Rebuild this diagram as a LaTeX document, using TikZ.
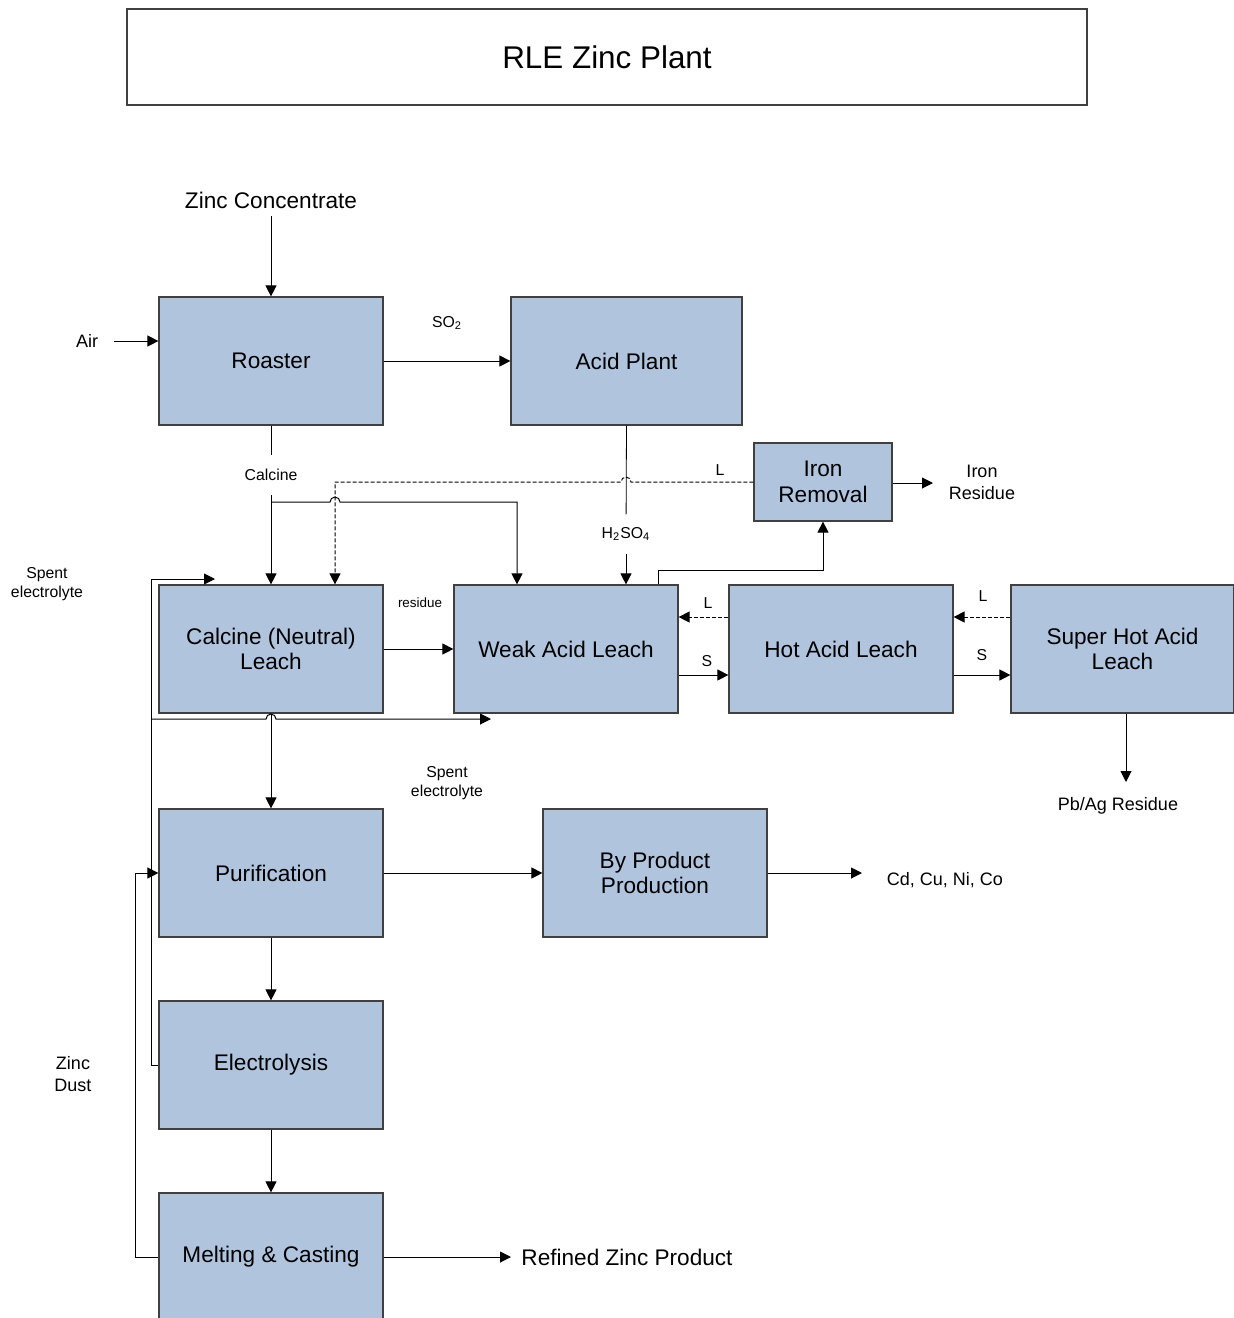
\documentclass[tikz,border=0pt]{standalone}
\usepackage{fontspec}
\setmainfont{Liberation Sans}
\usepackage{tikz}
\usetikzlibrary{arrows.meta}
\definecolor{boxblue}{HTML}{B0C4DE}
\definecolor{edgegray}{HTML}{404040}
\tikzset{
  proc/.style={draw=edgegray, fill=boxblue, line width=0.6pt, minimum width=112pt, minimum height=64pt, inner sep=0pt, align=center, font=\fontsize{11.3}{12.8}\selectfont},
  lbl/.style={align=center, inner sep=0pt, font=\fontsize{9}{11}\selectfont},
  note/.style={align=center, inner sep=0pt, font=\fontsize{7.9}{9.5}\selectfont},
  flow/.style={line width=0.5pt, -{Triangle[length=5.5pt,width=5.5pt]}},
  back/.style={flow, dash pattern=on 2pt off 1pt},
}
\begin{document}
\begin{tikzpicture}[x=0.5pt, y=-0.5pt]
    \useasboundingbox (0,0) rectangle (1234,1318);

    \node [draw=edgegray, line width=0.6pt, minimum width=480pt, minimum height=48pt, font=\fontsize{15.7}{18}\selectfont] (title) at (607,57) {RLE Zinc Plant};

    \node [proc] (roaster) at (271,361) {Roaster};
    \node [proc, minimum width=115.5pt] (acid) at (626.5,361) {Acid Plant};
    \node [proc, minimum width=69pt, minimum height=39pt] (iron) at (823,482) {Iron\\Removal};
    \node [proc] (cnl) at (271,649) {Calcine (Neutral)\\Leach};
    \node [proc] (wal) at (566,649) {Weak Acid Leach};
    \node [proc] (hal) at (841,649) {Hot Acid Leach};
    \node [proc, minimum width=111.5pt] (shal) at (1122.5,649) {Super Hot Acid\\Leach};
    \node [proc] (pur) at (271,873) {Purification};
    \node [proc] (byp) at (655,873) {By Product\\Production};
    \node [proc] (elec) at (271,1065) {Electrolysis};
    \node [proc] (melt) at (271,1257) {Melting \& Casting};

    \node [proc, draw=none, fill=none, minimum width=0pt, minimum height=0pt, inner xsep=0pt, inner ysep=3.5pt] (zc) at (271,200) {Zinc Concentrate};
    \node [lbl, inner xsep=7.7pt] (air) at (87,341) {Air};
    \node [note] (so2) at (447,323) {SO\textsubscript{2}};
    \node [note, inner ysep=7.1pt] (calc) at (271,475) {Calcine};
    \node [note, inner ysep=6.3pt] (h2so4) at (626,534) {H\textsubscript{2}SO\textsubscript{4}};
    \node [note] (lfe) at (720,470) {L};
    \node [lbl] (ironres) at (982,482) {Iron\\Residue};
    \node [note] (spent1) at (47,584) {Spent\\electrolyte};
    \node [note, font=\fontsize{6.7}{8}\selectfont] (res) at (420,603) {residue};
    \node [note] (l1) at (708,603) {L};
    \node [note] (s1) at (707,661) {S};
    \node [note] (l2) at (983,596) {L};
    \node [note] (s2) at (982,655) {S};
    \node [note] (spent2) at (447,783) {Spent\\electrolyte};
    \node [lbl] (pbag) at (1118,806) {Pb/Ag Residue};
    \node [lbl] (metals) at (945,880) {Cd, Cu, Ni, Co};
    \node [lbl] (zdust) at (73,1074) {Zinc\\Dust};
    \node [proc, draw=none, fill=none, minimum width=0pt, minimum height=0pt] (rzp) at (627,1257) {Refined Zinc Product};

    \coordinate (dl) at (335,482);
    \coordinate (hopa) at (626,482);
    \coordinate (cb) at (271,502);
    \coordinate (wb) at (517,502);
    \coordinate (fe) at (658,570);
    \coordinate (ire) at (933,483);
    \coordinate (pbe) at (1126,782);
    \coordinate (sl) at (151,579);
    \coordinate (sr) at (215,579);
    \coordinate (bl) at (151,719);
    \coordinate (br) at (491,719);
    \coordinate (zd) at (135,873);
    \coordinate (mte) at (862,873);
    \coordinate (rze) at (511,1257);

    \draw [flow] (zc) -- (roaster);
    \draw [flow] (air) -- (air -| roaster.west);
    \draw [flow] (roaster) -- (acid);
    \draw (roaster) -- (calc);
    \draw [flow] (calc) -- (cnl);
    \draw (acid.south) -- (h2so4);
    \draw [flow] (h2so4.south) -- (h2so4.south |- wal.north);
    \draw [back] (iron.west |- hopa) -- ([xshift=2.5pt]hopa) arc (0:180:2.5pt) -- (dl) -- (dl |- cnl.north);
    \draw [flow] (cb) -- ([xshift=-2.5pt]dl |- cb) arc (180:0:2.5pt) -- (wb) -- (wb |- wal.north);
    \draw [flow] (fe |- wal.north) -- (fe) -- (fe -| iron.south) -- (iron.south);
    \draw [flow] (iron.east |- ire) -- (ire);
    \draw [flow] (cnl) -- (wal);
    \draw [back] ([yshift=16pt]hal.west) -- ([yshift=16pt]wal.east);
    \draw [flow] ([yshift=-13pt]wal.east) -- ([yshift=-13pt]hal.west);
    \draw [back] ([yshift=16pt]shal.west) -- ([yshift=16pt]hal.east);
    \draw [flow] ([yshift=-13pt]hal.east) -- ([yshift=-13pt]shal.west);
    \draw [flow] (pbe |- shal.south) -- (pbe);
    \draw [flow] (cnl) -- (pur);
    \draw [flow] (elec.west) -- (sl |- elec.west) -- (sl) -- (sr);
    \draw [flow] (bl) -- ([xshift=-2.5pt]cnl.south |- bl) arc (180:0:2.5pt) -- (br);
    \draw [flow] (pur) -- (byp);
    \draw [flow] (byp.east) -- (mte);
    \draw [flow] (pur) -- (elec);
    \draw [flow] (elec) -- (melt);
    \draw [flow] (melt.west) -- (zd |- melt.west) -- (zd) -- (pur.west);
    \draw [flow] (melt.east) -- (rze);

  \end{tikzpicture}
\end{document}
